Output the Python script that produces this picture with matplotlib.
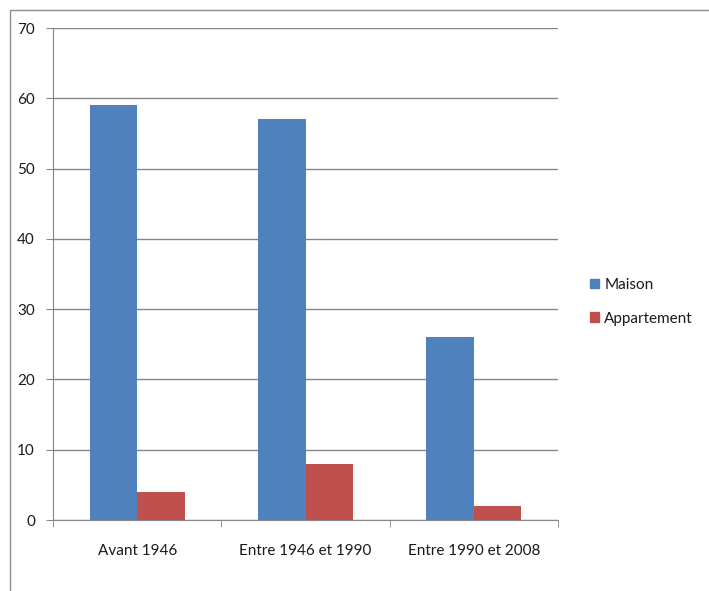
import numpy as np
import matplotlib.pyplot as plt
from matplotlib.patches import Rectangle, Patch

plt.rcParams['font.family'] = ['Lato', 'DejaVu Sans']

# Data
categories = ['Avant 1946', 'Entre 1946 et 1990', 'Entre 1990 et 2008']
maison = [59, 57, 26]
appartement = [4, 8, 2]

c_maison = '#4F81BD'
c_appart = '#C0504D'
grid_c = '#868686'

fig = plt.figure(figsize=(7.09, 5.91), dpi=100)
ax = fig.add_axes([53/709, 1-520/591, (558-53)/709, (520-28)/591])

x = np.arange(len(categories))
w = 0.282
ax.bar(x - w/2, maison, width=w, color=c_maison, zorder=3)
ax.bar(x + w/2, appartement, width=w, color=c_appart, zorder=3)

ax.set_xlim(-0.5, len(categories) - 0.5)
ax.set_ylim(0, 70)
ax.set_yticks(range(0, 71, 10))
ax.yaxis.grid(True, color=grid_c, lw=1, zorder=0)

# category labels between boundary ticks
ax.set_xticks(x)
ax.set_xticklabels(categories)
ax.tick_params(axis='x', length=0, pad=17, labelsize=11, labelcolor='#1a1a1a')
ax.set_xticks(np.arange(-0.5, len(categories)), minor=True)
ax.tick_params(axis='x', which='minor', length=5, direction='out', color=grid_c)
ax.tick_params(axis='y', length=5, direction='out', color=grid_c, pad=8,
               labelsize=11, labelcolor='#1a1a1a')

for s in ['top', 'right']:
    ax.spines[s].set_visible(False)
for s in ['left', 'bottom']:
    ax.spines[s].set_color(grid_c)

handles = [Patch(color=c_maison, label='Maison'),
           Patch(color=c_appart, label='Appartement')]
fig.legend(handles=handles, loc='upper left', bbox_to_anchor=(576/709, 1-264/591),
           frameon=False, handlelength=0.6, handleheight=0.6, handletextpad=0.35,
           labelspacing=1.3, fontsize=11, labelcolor='#1a1a1a')

# outer chart frame
fig.patches.append(Rectangle((9.5/709, -0.1), 1.2, 1 - 9.5/591 + 0.1,
                             transform=fig.transFigure, fill=False,
                             ec='#8c8c8c', lw=1))

fig.savefig('out.png', dpi=100)
